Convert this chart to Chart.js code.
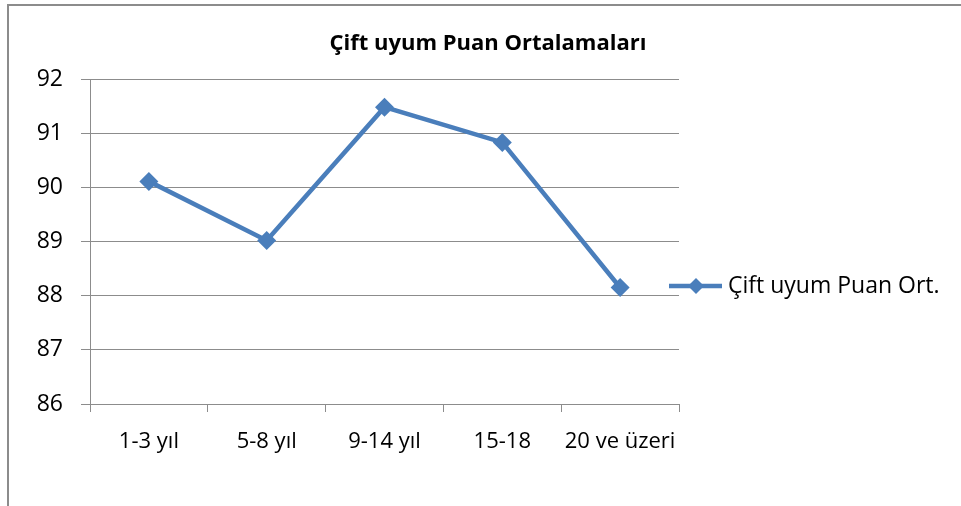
<!DOCTYPE html>
<html>
<head>
<meta charset="utf-8">
<script src="https://cdn.jsdelivr.net/npm/chart.js@4"></script>
<style>
  html, body { margin: 0; padding: 0; background: #fff; }
  #wrap { position: relative; width: 961px; height: 506px; overflow: hidden; }
  #frame { position: absolute; left: 7px; top: 4px; width: 1000px; height: 600px;
           border-left: 2px solid #8c8c8c; border-top: 2px solid #8c8c8c; pointer-events: none; }
  canvas { position: absolute; left: 0; top: 0; }
</style>
</head>
<body>
<div id="wrap">
  <canvas id="chart" width="961" height="506"></canvas>
  <div id="frame"></div>
</div>
<script>
'use strict';

// ── data ──
const categories = ['1-3 yıl', '5-8 yıl', '9-14 yıl', '15-18', '20 ve üzeri'];
const values     = [90.11, 89.02, 91.48, 90.83, 88.15];
const yTicks     = [86, 87, 88, 89, 90, 91, 92];
const seriesName = 'Çift uyum Puan Ort.';
const titleText  = 'Çift uyum Puan Ortalamaları';

const BLUE = '#4a7ebb';
const GRID = '#8c8c8c';
const FONT = '"Open Sans", Lato, sans-serif';

// title centred on the whole frame + legend as line + diamond
const decor = {
    id: 'decor',
    afterDraw(chart) {
        const { ctx, chartArea } = chart;
        ctx.save();
        ctx.fillStyle = '#000';
        ctx.font = 'bold 22px ' + FONT;
        ctx.textAlign = 'center';
        ctx.textBaseline = 'middle';
        ctx.fillText(titleText, 488, 44);

        const x0 = chartArea.right - 10, y = 286;
        ctx.strokeStyle = BLUE;
        ctx.lineWidth = 4.5;
        ctx.beginPath();
        ctx.moveTo(x0, y);
        ctx.lineTo(x0 + 53, y);
        ctx.stroke();
        ctx.fillStyle = BLUE;
        ctx.beginPath();
        const cx = x0 + 27, r = 8;
        ctx.moveTo(cx, y - r); ctx.lineTo(cx + r, y); ctx.lineTo(cx, y + r); ctx.lineTo(cx - r, y);
        ctx.closePath();
        ctx.fill();
        ctx.fillStyle = '#000';
        ctx.font = '23px ' + FONT;
        ctx.textAlign = 'left';
        ctx.fillText(seriesName, x0 + 59, y);
        ctx.restore();
    }
};

new Chart(document.getElementById('chart'), {
    type: 'line',
    data: {
        labels: categories,
        datasets: [{
            label: seriesName,
            data: values,
            borderColor: BLUE,
            backgroundColor: BLUE,
            borderWidth: 4.5,
            pointStyle: 'rectRot',
            pointRadius: 9.5,
            pointBackgroundColor: BLUE,
            pointBorderWidth: 0,
            tension: 0
        }]
    },
    options: {
        responsive: false,
        animation: false,
        layout: { padding: { left: 10, right: 282, top: 79, bottom: 0 } },
        plugins: {
            legend: { display: false },
            tooltip: { enabled: false },
            title: { display: false }
        },
        scales: {
            x: {
                offset: true,
                grid: { offset: true, drawOnChartArea: false, drawTicks: true, tickLength: 8, color: GRID },
                border: { display: true, color: GRID, width: 1 },
                ticks: { color: '#000', font: { family: FONT, size: 22 }, padding: 17,
                         maxRotation: 0, minRotation: 0, autoSkip: false },
                afterFit(scale) { scale.height = 102; }
            },
            y: {
                min: 86, max: 92,
                afterBuildTicks(scale) { scale.ticks = yTicks.map(v => ({ value: v })); },
                grid: { color: GRID, drawTicks: true, tickLength: 9 },
                border: { display: true, color: GRID, width: 1 },
                ticks: { color: '#000', font: { family: FONT, size: 23 }, padding: 18 },
                afterFit(scale) { scale.width = 80; }
            }
        }
    },
    plugins: [decor]
});
</script>
</body>
</html>
